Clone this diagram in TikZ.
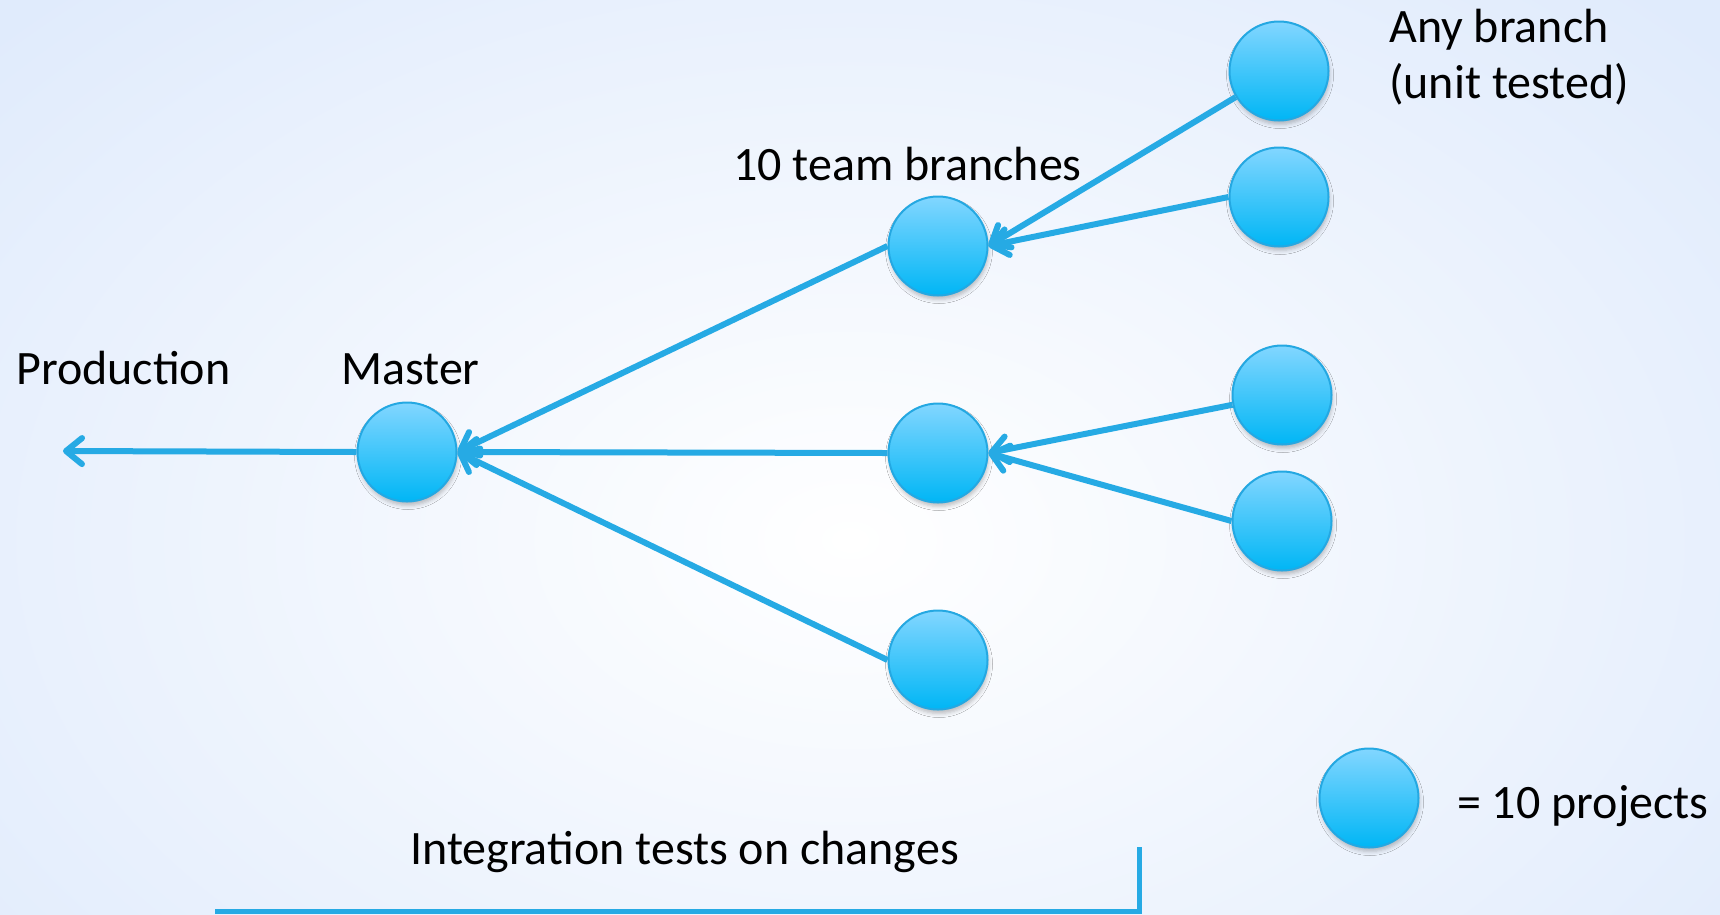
\documentclass[tikz,border=0pt]{standalone}
\usepackage{fontspec}
\setmainfont{Carlito}
\usetikzlibrary{arrows.meta,shadows.blur}

\definecolor{bgout}{RGB}{224,235,252}
\definecolor{linec}{RGB}{38,170,228}
\definecolor{ballTop}{RGB}{130,214,255}
\definecolor{ballBot}{RGB}{0,182,245}
\definecolor{ballRim}{RGB}{36,168,226}

\tikzset{
  ball/.style={circle, minimum size=99pt, inner sep=0pt, line width=2pt,
    draw=ballRim, top color=ballTop, bottom color=ballBot,
    blur shadow={shadow xshift=1pt, shadow yshift=-4pt,
      shadow blur radius=4pt, shadow opacity=25}},
  flow/.style={draw=linec, line width=6pt,
    -{Straight Barb[length=16pt,width=26pt,round]}},
  lbl/.style={inner sep=0pt, font=\fontsize{48}{52}\selectfont, text=black}
}

\begin{document}
\begin{tikzpicture}[x=1pt,y=-1pt]
  \useasboundingbox (0,0) rectangle (1720,914);

  % soft radial backdrop
  \begin{scope}
    \clip (0,0) rectangle (1720,914);
    \fill[bgout] (0,0) rectangle (1720,914);
    \shade[inner color=white, outer color=bgout] (-300,-220) rectangle (2000,1300);
  \end{scope}

  % project circles
  \node[ball] (master) at (407,452) {};
  \node[ball] (teamA)  at (938,246) {};
  \node[ball] (teamB)  at (938,453) {};
  \node[ball] (teamC)  at (938,660) {};
  \node[ball] (featA)  at (1279,71) {};
  \node[ball] (featB)  at (1279,197) {};
  \node[ball] (featC)  at (1282,395) {};
  \node[ball] (featD)  at (1282,521) {};
  \node[ball] (legend) at (1369,798) {};

  % merge flow
  \coordinate (prod) at (63,451);
  \draw[flow] (master.west) -- (prod);
  \draw[flow] (teamA.west) -- (master.east);
  \draw[flow] (teamB.west) -- (master.east);
  \draw[flow] (teamC.west) -- (master.east);
  \draw[flow] (featA) -- (teamA.east);
  \draw[flow] (featB.west) -- (teamA.east);
  \draw[flow] (featC) -- (teamB.east);
  \draw[flow] (featD.west) -- (teamB.east);

  % labels
  \node[lbl, anchor=base west] (tProd)   at (16,384)   {Production};
  \node[lbl, anchor=base west] (tMaster) at (341,384)  {Master};
  \node[lbl, anchor=base west] (tTeam)   at (733,180)  {10 team branches};
  \node[lbl, anchor=base west] (tAny)    at (1389,42)  {Any branch};
  \node[lbl, anchor=base west] (tUnit)   at (1389,98)  {(unit tested)};
  \node[lbl, anchor=base west] (tLegend) at (1457,818) {= 10 projects};
  \node[lbl, anchor=base west] (tInteg)  at (410,864)  {Integration tests on changes};

  % scope bracket for integration tests
  \draw[linec, line width=5pt] (1139.5,847) -- (1139.5,911.5) -- (215,911.5);
\end{tikzpicture}
\end{document}
